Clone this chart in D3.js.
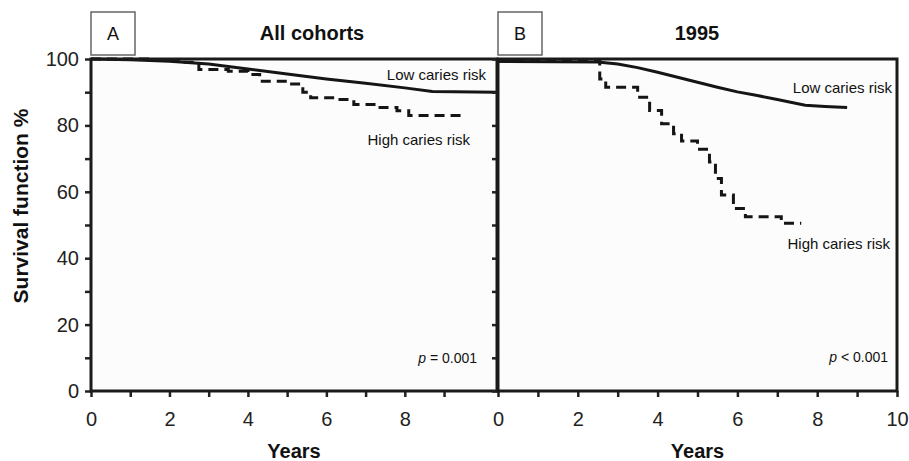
<!DOCTYPE html>
<html>
<head>
<meta charset="utf-8">
<script src="https://cdn.jsdelivr.net/npm/d3@7"></script>
<style>
  body { margin: 0; background: #fff; }
  svg { font-family: "Liberation Sans", Arial, sans-serif; }
</style>
</head>
<body>
<svg id="chart" width="909" height="461"></svg>
<script>
// survival curves, [years, survival %]
const lowA = [[0, 100], [1, 99.8], [2, 99.3], [3, 98.5], [4, 97], [5, 95.5], [6, 94], [7, 92.7], [8, 91.3], [8.7, 90.2], [10.35, 90]];
const highA = [[0, 100], [1.5, 99.6], [2.4, 99], [2.75, 96.8], [3.5, 96.3], [4.0, 95.3], [4.3, 93.3], [5.0, 92.5], [5.4, 90], [5.6, 88.3], [6.2, 87.8], [6.7, 86.3], [7.3, 85.4], [7.8, 84.4], [8.1, 83], [9.5, 83]];
const lowB = [[0, 99.3], [2.5, 99.1], [3, 98.5], [3.5, 97.4], [4, 96], [4.5, 94.5], [5, 93], [5.5, 91.5], [6, 90.1], [6.5, 89], [7, 87.8], [7.7, 86.1], [8.2, 85.7], [8.75, 85.4]];
const highB = [[0, 99.3], [2.55, 94], [2.7, 91.5], [3.5, 88.5], [3.8, 84.5], [4.1, 80.5], [4.4, 77.5], [4.6, 75.3], [5.0, 72.8], [5.3, 69], [5.45, 64], [5.6, 59], [5.9, 55], [6.2, 52.5], [7.1, 50.5], [7.6, 50.5]];

const panels = ["A", "B"];
const titles = ["All cohorts", "1995"];
const yTicks = [0, 10, 20, 30, 40, 50, 60, 70, 80, 90, 100];
const yLabels = [0, 20, 40, 60, 80, 100];
const xTicksA = [0, 1, 2, 3, 4, 5, 6, 7, 8, 9];
const xTicksB = [0, 1, 2, 3, 4, 5, 6, 7, 8, 9, 10];
const pValues = ["= 0.001", "< 0.001"];

const svg = d3.select("#chart");
const plotTop = 59, plotBottom = 391;
const y = d3.scaleLinear([0, 100], [plotBottom, plotTop]);

const cfg = [
  { x: d3.scaleLinear([0, 10.35], [91, 497]), ticks: xTicksA, low: lowA, high: highA,
    lowLab: [486, 80], highLab: [470, 145], pLab: [477, 363], yLab: true },
  { x: d3.scaleLinear([0, 10], [498, 897]), ticks: xTicksB, low: lowB, high: highB,
    lowLab: [892, 93], highLab: [890, 249], pLab: [888, 362], yLab: false }
];

cfg.forEach(function (c, i) {
  const x = c.x;
  const x0 = x.range()[0], x1 = x.range()[1];
  const g = svg.append("g");

  // header box + title
  g.append("rect").attr("x", x0).attr("y", 12).attr("width", 44).attr("height", 43)
    .attr("fill", "#fff").attr("stroke", "#666").attr("stroke-width", 1.5);
  g.append("text").attr("x", x0 + 22).attr("y", 40).attr("text-anchor", "middle")
    .attr("font-size", 18).attr("fill", "#111").text(panels[i]);
  g.append("text").attr("x", i === 0 ? 312 : 697).attr("y", 40).attr("text-anchor", "middle")
    .attr("font-size", 20).attr("font-weight", "bold").attr("fill", "#111").text(titles[i]);

  // plot bg
  g.append("rect").attr("x", x0).attr("y", plotTop).attr("width", x1 - x0).attr("height", plotBottom - plotTop)
    .attr("fill", "#fcfcfc");

  // axes
  const xAxis = d3.axisBottom(x).tickValues(c.ticks).tickSize(6)
    .tickFormat(d => (d % 2 === 0 ? d : ""));
  g.append("g").attr("transform", "translate(0," + plotBottom + ")").call(xAxis)
    .call(a => a.select(".domain").remove())
    .call(a => a.selectAll("line").attr("stroke", "#222").attr("stroke-width", 2.5))
    .call(a => a.selectAll("text").attr("font-size", 20).attr("fill", "#222").attr("dy", "1.3em")
      .attr("font-family", "Liberation Sans, Arial, sans-serif"));

  const yAxis = d3.axisLeft(y).tickValues(yTicks).tickSize(6)
    .tickFormat(d => (c.yLab && yLabels.includes(d) ? d : ""));
  g.append("g").attr("transform", "translate(" + x0 + ",0)").call(yAxis)
    .call(a => a.select(".domain").remove())
    .call(a => a.selectAll("line").attr("stroke", "#222").attr("stroke-width", 2.5))
    .call(a => a.selectAll("text").attr("font-size", 20).attr("fill", "#222").attr("x", -12)
      .attr("font-family", "Liberation Sans, Arial, sans-serif"));

  // curves
  const lowLine = d3.line().x(d => x(d[0])).y(d => y(d[1]));
  const highLine = d3.line().x(d => x(d[0])).y(d => y(d[1])).curve(d3.curveStepAfter);
  g.append("path").attr("d", lowLine(c.low))
    .attr("fill", "none").attr("stroke", "#151515").attr("stroke-width", 3);
  g.append("path").attr("d", highLine(c.high))
    .attr("fill", "none").attr("stroke", "#151515").attr("stroke-width", 3)
    .attr("stroke-dasharray", "10,6");

  // frame
  g.append("rect").attr("x", x0).attr("y", plotTop).attr("width", x1 - x0).attr("height", plotBottom - plotTop)
    .attr("fill", "none").attr("stroke", "#1a1a1a").attr("stroke-width", 3);

  // labels
  g.append("text").attr("x", c.lowLab[0]).attr("y", c.lowLab[1]).attr("text-anchor", "end")
    .attr("font-size", 15).attr("fill", "#111").text("Low caries risk");
  g.append("text").attr("x", c.highLab[0]).attr("y", c.highLab[1]).attr("text-anchor", "end")
    .attr("font-size", 15).attr("fill", "#111").text("High caries risk");
  const p = g.append("text").attr("x", c.pLab[0]).attr("y", c.pLab[1]).attr("text-anchor", "end")
    .attr("font-size", 14).attr("fill", "#111");
  p.append("tspan").attr("font-style", "italic").text("p");
  p.append("tspan").text(" " + pValues[i]);

  // x title
  g.append("text").attr("x", (x0 + x1) / 2).attr("y", 458).attr("text-anchor", "middle")
    .attr("font-size", 20).attr("font-weight", "bold").attr("fill", "#111").text("Years");
});

svg.append("text").attr("transform", "translate(28,206) rotate(-90)").attr("text-anchor", "middle")
  .attr("font-size", 21).attr("font-weight", "bold").attr("fill", "#111").text("Survival function %");
</script>
</body>
</html>
